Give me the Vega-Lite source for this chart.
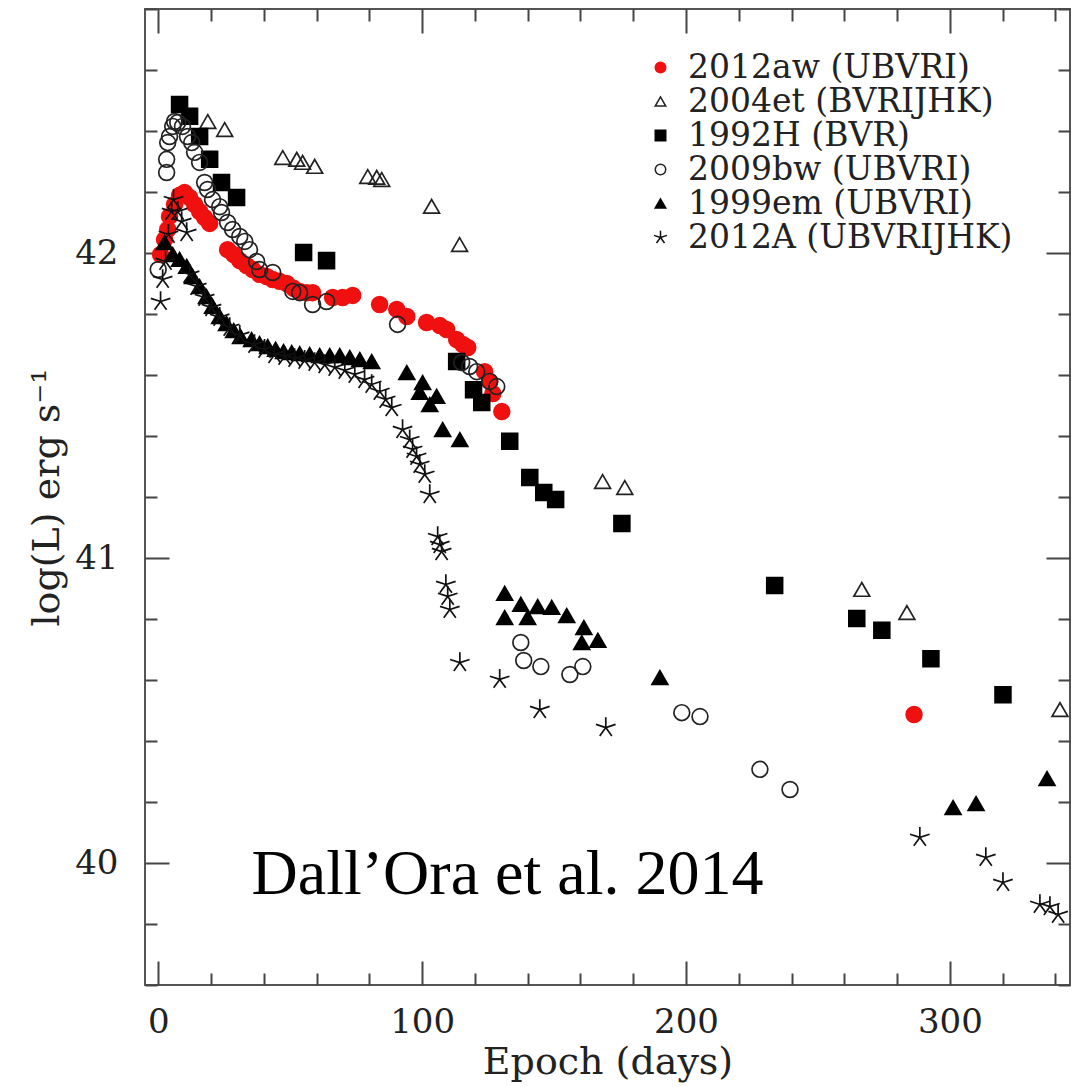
{
  "$schema": "https://vega.github.io/schema/vega-lite/v6.json",
  "width": 925,
  "height": 976,
  "autosize": {"type": "none"},
  "padding": {"left": 145, "top": 9, "right": 2, "bottom": 102},
  "background": "white",
  "config": {
    "view": {"stroke": "#555", "strokeWidth": 2},
    "axis": {"domain": false, "grid": false, "tickColor": "#444", "tickWidth": 2, "labelColor": "#222", "titleColor": "#222", "labelFont": "DejaVu Serif", "titleFont": "DejaVu Serif", "titleFontWeight": "normal"},
    "legend": {"orient": "none", "legendX": 499, "legendY": 42, "padding": 0, "labelFont": "DejaVu Serif", "labelFontSize": 33, "labelColor": "#222", "labelLimit": 700, "labelOffset": 11, "symbolSize": 110, "symbolStrokeWidth": 1.5, "rowPadding": -9}
  },
  "datasets": {
    "lc": [
      {"sn": "2012aw (UBVRI)", "day": 0.9, "logL": 41.995},
      {"sn": "2012aw (UBVRI)", "day": 2.4, "logL": 42.044},
      {"sn": "2012aw (UBVRI)", "day": 3.6, "logL": 42.077},
      {"sn": "2012aw (UBVRI)", "day": 4.3, "logL": 42.12},
      {"sn": "2012aw (UBVRI)", "day": 6.2, "logL": 42.159},
      {"sn": "2012aw (UBVRI)", "day": 8.1, "logL": 42.189},
      {"sn": "2012aw (UBVRI)", "day": 10.0, "logL": 42.198},
      {"sn": "2012aw (UBVRI)", "day": 11.9, "logL": 42.182},
      {"sn": "2012aw (UBVRI)", "day": 13.8, "logL": 42.159},
      {"sn": "2012aw (UBVRI)", "day": 15.7, "logL": 42.136},
      {"sn": "2012aw (UBVRI)", "day": 17.6, "logL": 42.116},
      {"sn": "2012aw (UBVRI)", "day": 19.5, "logL": 42.097},
      {"sn": "2012aw (UBVRI)", "day": 26.3, "logL": 42.011},
      {"sn": "2012aw (UBVRI)", "day": 28.6, "logL": 41.995},
      {"sn": "2012aw (UBVRI)", "day": 30.9, "logL": 41.975},
      {"sn": "2012aw (UBVRI)", "day": 33.5, "logL": 41.959},
      {"sn": "2012aw (UBVRI)", "day": 35.8, "logL": 41.946},
      {"sn": "2012aw (UBVRI)", "day": 38.4, "logL": 41.93},
      {"sn": "2012aw (UBVRI)", "day": 41.1, "logL": 41.923},
      {"sn": "2012aw (UBVRI)", "day": 43.4, "logL": 41.913},
      {"sn": "2012aw (UBVRI)", "day": 46.0, "logL": 41.907},
      {"sn": "2012aw (UBVRI)", "day": 48.7, "logL": 41.9},
      {"sn": "2012aw (UBVRI)", "day": 51.3, "logL": 41.884},
      {"sn": "2012aw (UBVRI)", "day": 53.6, "logL": 41.874},
      {"sn": "2012aw (UBVRI)", "day": 56.3, "logL": 41.87},
      {"sn": "2012aw (UBVRI)", "day": 58.5, "logL": 41.87},
      {"sn": "2012aw (UBVRI)", "day": 66.1, "logL": 41.854},
      {"sn": "2012aw (UBVRI)", "day": 69.9, "logL": 41.854},
      {"sn": "2012aw (UBVRI)", "day": 73.7, "logL": 41.861},
      {"sn": "2012aw (UBVRI)", "day": 83.9, "logL": 41.831},
      {"sn": "2012aw (UBVRI)", "day": 90.4, "logL": 41.815},
      {"sn": "2012aw (UBVRI)", "day": 94.2, "logL": 41.792},
      {"sn": "2012aw (UBVRI)", "day": 101.7, "logL": 41.772},
      {"sn": "2012aw (UBVRI)", "day": 106.7, "logL": 41.762},
      {"sn": "2012aw (UBVRI)", "day": 109.3, "logL": 41.749},
      {"sn": "2012aw (UBVRI)", "day": 113.1, "logL": 41.716},
      {"sn": "2012aw (UBVRI)", "day": 115.4, "logL": 41.7},
      {"sn": "2012aw (UBVRI)", "day": 117.3, "logL": 41.69},
      {"sn": "2012aw (UBVRI)", "day": 123.7, "logL": 41.611},
      {"sn": "2012aw (UBVRI)", "day": 125.6, "logL": 41.579},
      {"sn": "2012aw (UBVRI)", "day": 126.8, "logL": 41.539},
      {"sn": "2012aw (UBVRI)", "day": 130.2, "logL": 41.48},
      {"sn": "2012aw (UBVRI)", "day": 286.4, "logL": 40.487},

      {"sn": "2004et (BVRIJHK)", "day": 18.8, "logL": 42.431},
      {"sn": "2004et (BVRIJHK)", "day": 25.2, "logL": 42.405},
      {"sn": "2004et (BVRIJHK)", "day": 47.2, "logL": 42.313},
      {"sn": "2004et (BVRIJHK)", "day": 52.5, "logL": 42.307},
      {"sn": "2004et (BVRIJHK)", "day": 54.7, "logL": 42.297},
      {"sn": "2004et (BVRIJHK)", "day": 59.3, "logL": 42.284},
      {"sn": "2004et (BVRIJHK)", "day": 79.4, "logL": 42.251},
      {"sn": "2004et (BVRIJHK)", "day": 82.8, "logL": 42.248},
      {"sn": "2004et (BVRIJHK)", "day": 84.7, "logL": 42.241},
      {"sn": "2004et (BVRIJHK)", "day": 103.6, "logL": 42.153},
      {"sn": "2004et (BVRIJHK)", "day": 114.2, "logL": 42.028},
      {"sn": "2004et (BVRIJHK)", "day": 168.4, "logL": 41.251},
      {"sn": "2004et (BVRIJHK)", "day": 176.8, "logL": 41.231},
      {"sn": "2004et (BVRIJHK)", "day": 266.6, "logL": 40.897},
      {"sn": "2004et (BVRIJHK)", "day": 283.7, "logL": 40.821},
      {"sn": "2004et (BVRIJHK)", "day": 341.7, "logL": 40.503},

      {"sn": "1992H (BVR)", "day": 8.1, "logL": 42.487},
      {"sn": "1992H (BVR)", "day": 11.9, "logL": 42.448},
      {"sn": "1992H (BVR)", "day": 15.7, "logL": 42.382},
      {"sn": "1992H (BVR)", "day": 19.5, "logL": 42.307},
      {"sn": "1992H (BVR)", "day": 24.0, "logL": 42.231},
      {"sn": "1992H (BVR)", "day": 29.7, "logL": 42.182},
      {"sn": "1992H (BVR)", "day": 55.1, "logL": 42.002},
      {"sn": "1992H (BVR)", "day": 63.8, "logL": 41.975},
      {"sn": "1992H (BVR)", "day": 113.1, "logL": 41.644},
      {"sn": "1992H (BVR)", "day": 119.5, "logL": 41.552},
      {"sn": "1992H (BVR)", "day": 122.6, "logL": 41.51},
      {"sn": "1992H (BVR)", "day": 133.2, "logL": 41.383},
      {"sn": "1992H (BVR)", "day": 140.8, "logL": 41.264},
      {"sn": "1992H (BVR)", "day": 146.1, "logL": 41.215},
      {"sn": "1992H (BVR)", "day": 150.6, "logL": 41.192},
      {"sn": "1992H (BVR)", "day": 175.7, "logL": 41.113},
      {"sn": "1992H (BVR)", "day": 233.6, "logL": 40.91},
      {"sn": "1992H (BVR)", "day": 264.7, "logL": 40.802},
      {"sn": "1992H (BVR)", "day": 274.2, "logL": 40.763},
      {"sn": "1992H (BVR)", "day": 292.8, "logL": 40.67},
      {"sn": "1992H (BVR)", "day": 320.1, "logL": 40.552},

      {"sn": "2009bw (UBVRI)", "day": 0.0, "logL": 41.946},
      {"sn": "2009bw (UBVRI)", "day": 3.2, "logL": 42.264},
      {"sn": "2009bw (UBVRI)", "day": 3.2, "logL": 42.307},
      {"sn": "2009bw (UBVRI)", "day": 3.6, "logL": 42.362},
      {"sn": "2009bw (UBVRI)", "day": 4.3, "logL": 42.382},
      {"sn": "2009bw (UBVRI)", "day": 5.5, "logL": 42.415},
      {"sn": "2009bw (UBVRI)", "day": 6.2, "logL": 42.431},
      {"sn": "2009bw (UBVRI)", "day": 7.4, "logL": 42.428},
      {"sn": "2009bw (UBVRI)", "day": 9.2, "logL": 42.415},
      {"sn": "2009bw (UBVRI)", "day": 11.1, "logL": 42.382},
      {"sn": "2009bw (UBVRI)", "day": 12.7, "logL": 42.362},
      {"sn": "2009bw (UBVRI)", "day": 13.8, "logL": 42.33},
      {"sn": "2009bw (UBVRI)", "day": 15.7, "logL": 42.297},
      {"sn": "2009bw (UBVRI)", "day": 17.6, "logL": 42.231},
      {"sn": "2009bw (UBVRI)", "day": 18.7, "logL": 42.208},
      {"sn": "2009bw (UBVRI)", "day": 20.6, "logL": 42.175},
      {"sn": "2009bw (UBVRI)", "day": 23.3, "logL": 42.152},
      {"sn": "2009bw (UBVRI)", "day": 24.0, "logL": 42.133},
      {"sn": "2009bw (UBVRI)", "day": 26.3, "logL": 42.1},
      {"sn": "2009bw (UBVRI)", "day": 28.2, "logL": 42.077},
      {"sn": "2009bw (UBVRI)", "day": 30.9, "logL": 42.054},
      {"sn": "2009bw (UBVRI)", "day": 32.8, "logL": 42.038},
      {"sn": "2009bw (UBVRI)", "day": 34.6, "logL": 42.011},
      {"sn": "2009bw (UBVRI)", "day": 37.3, "logL": 41.972},
      {"sn": "2009bw (UBVRI)", "day": 38.4, "logL": 41.946},
      {"sn": "2009bw (UBVRI)", "day": 43.4, "logL": 41.936},
      {"sn": "2009bw (UBVRI)", "day": 51.0, "logL": 41.874},
      {"sn": "2009bw (UBVRI)", "day": 53.6, "logL": 41.87},
      {"sn": "2009bw (UBVRI)", "day": 58.5, "logL": 41.831},
      {"sn": "2009bw (UBVRI)", "day": 63.8, "logL": 41.841},
      {"sn": "2009bw (UBVRI)", "day": 90.7, "logL": 41.766},
      {"sn": "2009bw (UBVRI)", "day": 115.0, "logL": 41.641},
      {"sn": "2009bw (UBVRI)", "day": 118.0, "logL": 41.628},
      {"sn": "2009bw (UBVRI)", "day": 120.7, "logL": 41.611},
      {"sn": "2009bw (UBVRI)", "day": 125.6, "logL": 41.579},
      {"sn": "2009bw (UBVRI)", "day": 128.3, "logL": 41.562},
      {"sn": "2009bw (UBVRI)", "day": 137.4, "logL": 40.723},
      {"sn": "2009bw (UBVRI)", "day": 138.5, "logL": 40.664},
      {"sn": "2009bw (UBVRI)", "day": 145.0, "logL": 40.644},
      {"sn": "2009bw (UBVRI)", "day": 156.0, "logL": 40.618},
      {"sn": "2009bw (UBVRI)", "day": 160.9, "logL": 40.644},
      {"sn": "2009bw (UBVRI)", "day": 198.4, "logL": 40.493},
      {"sn": "2009bw (UBVRI)", "day": 205.3, "logL": 40.48},
      {"sn": "2009bw (UBVRI)", "day": 228.0, "logL": 40.307},
      {"sn": "2009bw (UBVRI)", "day": 239.4, "logL": 40.241},

      {"sn": "1999em (UBVRI)", "day": 2.4, "logL": 42.034},
      {"sn": "1999em (UBVRI)", "day": 5.5, "logL": 41.995},
      {"sn": "1999em (UBVRI)", "day": 8.1, "logL": 41.979},
      {"sn": "1999em (UBVRI)", "day": 10.8, "logL": 41.956},
      {"sn": "1999em (UBVRI)", "day": 13.0, "logL": 41.923},
      {"sn": "1999em (UBVRI)", "day": 15.7, "logL": 41.89},
      {"sn": "1999em (UBVRI)", "day": 18.3, "logL": 41.857},
      {"sn": "1999em (UBVRI)", "day": 20.6, "logL": 41.825},
      {"sn": "1999em (UBVRI)", "day": 23.3, "logL": 41.792},
      {"sn": "1999em (UBVRI)", "day": 25.9, "logL": 41.769},
      {"sn": "1999em (UBVRI)", "day": 28.6, "logL": 41.746},
      {"sn": "1999em (UBVRI)", "day": 31.2, "logL": 41.726},
      {"sn": "1999em (UBVRI)", "day": 35.4, "logL": 41.716},
      {"sn": "1999em (UBVRI)", "day": 38.4, "logL": 41.703},
      {"sn": "1999em (UBVRI)", "day": 41.5, "logL": 41.693},
      {"sn": "1999em (UBVRI)", "day": 44.5, "logL": 41.684},
      {"sn": "1999em (UBVRI)", "day": 47.5, "logL": 41.677},
      {"sn": "1999em (UBVRI)", "day": 50.6, "logL": 41.674},
      {"sn": "1999em (UBVRI)", "day": 53.6, "logL": 41.67},
      {"sn": "1999em (UBVRI)", "day": 57.4, "logL": 41.667},
      {"sn": "1999em (UBVRI)", "day": 61.2, "logL": 41.664},
      {"sn": "1999em (UBVRI)", "day": 65.0, "logL": 41.664},
      {"sn": "1999em (UBVRI)", "day": 68.8, "logL": 41.664},
      {"sn": "1999em (UBVRI)", "day": 72.6, "logL": 41.657},
      {"sn": "1999em (UBVRI)", "day": 76.4, "logL": 41.651},
      {"sn": "1999em (UBVRI)", "day": 80.9, "logL": 41.644},
      {"sn": "1999em (UBVRI)", "day": 94.2, "logL": 41.608},
      {"sn": "1999em (UBVRI)", "day": 100.2, "logL": 41.575},
      {"sn": "1999em (UBVRI)", "day": 99.1, "logL": 41.543},
      {"sn": "1999em (UBVRI)", "day": 105.5, "logL": 41.53},
      {"sn": "1999em (UBVRI)", "day": 102.9, "logL": 41.503},
      {"sn": "1999em (UBVRI)", "day": 107.8, "logL": 41.421},
      {"sn": "1999em (UBVRI)", "day": 114.3, "logL": 41.388},
      {"sn": "1999em (UBVRI)", "day": 131.3, "logL": 40.884},
      {"sn": "1999em (UBVRI)", "day": 131.3, "logL": 40.805},
      {"sn": "1999em (UBVRI)", "day": 137.4, "logL": 40.848},
      {"sn": "1999em (UBVRI)", "day": 140.0, "logL": 40.805},
      {"sn": "1999em (UBVRI)", "day": 143.8, "logL": 40.841},
      {"sn": "1999em (UBVRI)", "day": 149.1, "logL": 40.838},
      {"sn": "1999em (UBVRI)", "day": 154.8, "logL": 40.811},
      {"sn": "1999em (UBVRI)", "day": 161.3, "logL": 40.772},
      {"sn": "1999em (UBVRI)", "day": 160.5, "logL": 40.723},
      {"sn": "1999em (UBVRI)", "day": 166.6, "logL": 40.73},
      {"sn": "1999em (UBVRI)", "day": 190.1, "logL": 40.608},
      {"sn": "1999em (UBVRI)", "day": 301.2, "logL": 40.182},
      {"sn": "1999em (UBVRI)", "day": 309.9, "logL": 40.195},
      {"sn": "1999em (UBVRI)", "day": 336.8, "logL": 40.277},

      {"sn": "2012A (UBVRIJHK)", "day": 0.9, "logL": 41.841},
      {"sn": "2012A (UBVRIJHK)", "day": 1.7, "logL": 41.913},
      {"sn": "2012A (UBVRIJHK)", "day": 2.8, "logL": 41.972},
      {"sn": "2012A (UBVRIJHK)", "day": 3.9, "logL": 42.061},
      {"sn": "2012A (UBVRIJHK)", "day": 5.1, "logL": 42.136},
      {"sn": "2012A (UBVRIJHK)", "day": 5.8, "logL": 42.175},
      {"sn": "2012A (UBVRIJHK)", "day": 7.4, "logL": 42.136},
      {"sn": "2012A (UBVRIJHK)", "day": 8.9, "logL": 42.103},
      {"sn": "2012A (UBVRIJHK)", "day": 10.8, "logL": 42.067},
      {"sn": "2012A (UBVRIJHK)", "day": 11.9, "logL": 41.93},
      {"sn": "2012A (UBVRIJHK)", "day": 14.6, "logL": 41.89},
      {"sn": "2012A (UBVRIJHK)", "day": 17.6, "logL": 41.854},
      {"sn": "2012A (UBVRIJHK)", "day": 20.2, "logL": 41.821},
      {"sn": "2012A (UBVRIJHK)", "day": 23.3, "logL": 41.789},
      {"sn": "2012A (UBVRIJHK)", "day": 27.1, "logL": 41.756},
      {"sn": "2012A (UBVRIJHK)", "day": 30.9, "logL": 41.73},
      {"sn": "2012A (UBVRIJHK)", "day": 36.5, "logL": 41.7},
      {"sn": "2012A (UBVRIJHK)", "day": 40.3, "logL": 41.684},
      {"sn": "2012A (UBVRIJHK)", "day": 44.1, "logL": 41.667},
      {"sn": "2012A (UBVRIJHK)", "day": 47.9, "logL": 41.661},
      {"sn": "2012A (UBVRIJHK)", "day": 51.7, "logL": 41.654},
      {"sn": "2012A (UBVRIJHK)", "day": 55.5, "logL": 41.648},
      {"sn": "2012A (UBVRIJHK)", "day": 59.3, "logL": 41.641},
      {"sn": "2012A (UBVRIJHK)", "day": 63.1, "logL": 41.634},
      {"sn": "2012A (UBVRIJHK)", "day": 66.9, "logL": 41.625},
      {"sn": "2012A (UBVRIJHK)", "day": 70.7, "logL": 41.615},
      {"sn": "2012A (UBVRIJHK)", "day": 74.5, "logL": 41.602},
      {"sn": "2012A (UBVRIJHK)", "day": 78.2, "logL": 41.585},
      {"sn": "2012A (UBVRIJHK)", "day": 80.9, "logL": 41.569},
      {"sn": "2012A (UBVRIJHK)", "day": 84.0, "logL": 41.546},
      {"sn": "2012A (UBVRIJHK)", "day": 86.2, "logL": 41.52},
      {"sn": "2012A (UBVRIJHK)", "day": 88.5, "logL": 41.493},
      {"sn": "2012A (UBVRIJHK)", "day": 92.6, "logL": 41.421},
      {"sn": "2012A (UBVRIJHK)", "day": 95.3, "logL": 41.388},
      {"sn": "2012A (UBVRIJHK)", "day": 96.4, "logL": 41.356},
      {"sn": "2012A (UBVRIJHK)", "day": 97.9, "logL": 41.333},
      {"sn": "2012A (UBVRIJHK)", "day": 99.1, "logL": 41.307},
      {"sn": "2012A (UBVRIJHK)", "day": 101.0, "logL": 41.274},
      {"sn": "2012A (UBVRIJHK)", "day": 102.9, "logL": 41.208},
      {"sn": "2012A (UBVRIJHK)", "day": 105.9, "logL": 41.07},
      {"sn": "2012A (UBVRIJHK)", "day": 106.7, "logL": 41.044},
      {"sn": "2012A (UBVRIJHK)", "day": 107.4, "logL": 41.021},
      {"sn": "2012A (UBVRIJHK)", "day": 109.0, "logL": 40.913},
      {"sn": "2012A (UBVRIJHK)", "day": 109.7, "logL": 40.874},
      {"sn": "2012A (UBVRIJHK)", "day": 110.5, "logL": 40.831},
      {"sn": "2012A (UBVRIJHK)", "day": 114.3, "logL": 40.657},
      {"sn": "2012A (UBVRIJHK)", "day": 129.4, "logL": 40.602},
      {"sn": "2012A (UBVRIJHK)", "day": 144.6, "logL": 40.503},
      {"sn": "2012A (UBVRIJHK)", "day": 169.6, "logL": 40.444},
      {"sn": "2012A (UBVRIJHK)", "day": 288.6, "logL": 40.084},
      {"sn": "2012A (UBVRIJHK)", "day": 313.6, "logL": 40.018},
      {"sn": "2012A (UBVRIJHK)", "day": 320.1, "logL": 39.936},
      {"sn": "2012A (UBVRIJHK)", "day": 334.1, "logL": 39.864},
      {"sn": "2012A (UBVRIJHK)", "day": 337.9, "logL": 39.857},
      {"sn": "2012A (UBVRIJHK)", "day": 341.0, "logL": 39.831}
    ],
    "note": [{"label": "Dall’Ora et al. 2014"}]
  },
  "layer": [
    {
      "data": {"name": "lc"},
      "mark": {"type": "point", "filled": true, "opacity": 1, "size": 250, "strokeWidth": 1.7},
      "encoding": {
        "x": {
          "field": "day", "type": "quantitative",
          "scale": {"domain": [-5, 345.5], "nice": false, "zero": false},
          "axis": {
            "orient": "bottom",
            "values": [0, 20, 40, 60, 80, 100, 120, 140, 160, 180, 200, 220, 240, 260, 280, 300, 320, 340],
            "labelExpr": "datum.value % 100 === 0 ? '' + datum.value : ''",
            "tickSize": {"condition": {"test": "datum.value % 100 === 0", "value": -24}, "value": -12},
            "labelPadding": 44,
            "labelFontSize": 34,
            "title": "Epoch (days)",
            "titleFontSize": 38,
            "titlePadding": 4
          }
        },
        "y": {
          "field": "logL", "type": "quantitative",
          "scale": {"domain": [39.6, 42.8], "nice": false, "zero": false},
          "axis": {
            "orient": "left",
            "values": [39.6, 39.8, 40, 40.2, 40.4, 40.6, 40.8, 41, 41.2, 41.4, 41.6, 41.8, 42, 42.2, 42.4, 42.6, 42.8],
            "labelExpr": "datum.value % 1 === 0 ? '' + datum.value : ''",
            "tickSize": {"condition": {"test": "datum.value % 1 === 0", "value": -24}, "value": -12},
            "labelPadding": 51,
            "labelFontSize": 34,
            "title": "log(L) erg s⁻¹",
            "titleFontSize": 38,
            "titlePadding": 8
          }
        },
        "shape": {
          "field": "sn", "type": "nominal",
          "scale": {
            "domain": ["2012aw (UBVRI)", "2004et (BVRIJHK)", "1992H (BVR)", "2009bw (UBVRI)", "1999em (UBVRI)", "2012A (UBVRIJHK)"],
            "range": ["circle", "triangle-up", "square", "circle", "triangle-up", "M0,-1.3L0,0M0,0L1.236,-0.402M0,0L0.764,1.052M0,0L-0.764,1.052M0,0L-1.236,-0.402"]
          },
          "legend": {"title": null, "labelExpr": "datum.label == '2012A (UBVRIJHK)' ? '\u00a0' + datum.label : datum.label"}
        },
        "fill": {
          "field": "sn", "type": "nominal",
          "scale": {
            "domain": ["2012aw (UBVRI)", "2004et (BVRIJHK)", "1992H (BVR)", "2009bw (UBVRI)", "1999em (UBVRI)", "2012A (UBVRIJHK)"],
            "range": ["#f01010", "transparent", "black", "transparent", "black", "transparent"]
          },
          "legend": {"title": null, "labelExpr": "datum.label == '2012A (UBVRIJHK)' ? '\u00a0' + datum.label : datum.label"}
        },
        "stroke": {
          "field": "sn", "type": "nominal",
          "scale": {
            "domain": ["2012aw (UBVRI)", "2004et (BVRIJHK)", "1992H (BVR)", "2009bw (UBVRI)", "1999em (UBVRI)", "2012A (UBVRIJHK)"],
            "range": ["#f01010", "#222", "black", "#222", "black", "#111"]
          },
          "legend": {"title": null, "labelExpr": "datum.label == '2012A (UBVRIJHK)' ? '\u00a0' + datum.label : datum.label"}
        }
      }
    },
    {
      "data": {"name": "lc"},
      "mark": {"type": "point", "opacity": 0},
      "encoding": {
        "x": {
          "field": "day", "type": "quantitative",
          "axis": {
            "orient": "top",
            "values": [0, 20, 40, 60, 80, 100, 120, 140, 160, 180, 200, 220, 240, 260, 280, 300, 320, 340],
            "labels": false,
            "title": null,
            "tickSize": {"condition": {"test": "datum.value % 100 === 0", "value": -24}, "value": -12}
          }
        },
        "y": {
          "field": "logL", "type": "quantitative",
          "axis": {
            "orient": "right",
            "values": [39.6, 39.8, 40, 40.2, 40.4, 40.6, 40.8, 41, 41.2, 41.4, 41.6, 41.8, 42, 42.2, 42.4, 42.6, 42.8],
            "labels": false,
            "title": null,
            "tickSize": {"condition": {"test": "datum.value % 1 === 0", "value": -24}, "value": -12}
          }
        }
      }
    },
    {
      "data": {"name": "note"},
      "mark": {"type": "text", "font": "Liberation Serif", "fontSize": 64, "align": "left", "baseline": "alphabetic", "color": "black"},
      "encoding": {
        "x": {"datum": 35.4, "type": "quantitative", "axis": null},
        "y": {"datum": 39.897, "type": "quantitative", "axis": null},
        "text": {"field": "label", "type": "nominal"}
      }
    }
  ],
  "resolve": {"axis": {"x": "independent", "y": "independent"}}
}
